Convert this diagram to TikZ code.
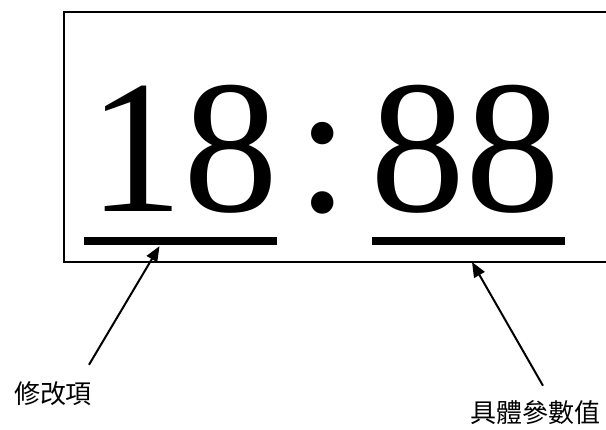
\documentclass[tikz,border=0pt]{standalone}
\usepackage{fontspec}
\setmainfont{Liberation Serif}
\newfontfamily\timesfont{Liberation Serif}
\newfontfamily\cjk{Noto Sans CJK TC}
\usepackage{tikz}
\usetikzlibrary{positioning,arrows.meta,calc}

\begin{document}
\begin{tikzpicture}[x=1pt,y=-1pt,
    digits/.style={inner sep=0pt,font=\timesfont\fontsize{190}{190}\selectfont},
    bar/.style={fill=black,inner sep=0pt,minimum width=193pt,minimum height=8pt},
    tag/.style={inner sep=0pt,font=\cjk\fontsize{26}{26}\selectfont},
    pointer/.style={line width=2pt,-{Triangle[length=15pt,width=12pt]}}]
  \useasboundingbox (0,0) rectangle (606,430);
  % open frame, right side runs off the page
  \coordinate (frameTL) at (64,12);
  \coordinate (frameBL) at (64,262);
  \draw[line width=1.4pt] (606,12) -- (frameTL) -- (frameBL) -- (606,262);
  \node[digits,anchor=base west] (hour) at (88,212) {18};
  \node[digits,anchor=base] (colon) at (323,212) {:};
  \node[digits,anchor=base west] (minute) at (370,212) {88};
  \node[bar] (hourbar) at (180.5,241) {};
  \node[bar] (minutebar) at (468.5,241) {};
  \node[tag] (item) at (53,394) {修改項};
  \node[tag] (value) at (535,413) {具體參數值};
  \draw[pointer] ($(item.north)+(36,-17)$) -- ($(hourbar.south)+(-21,1)$);
  \draw[pointer] ($(value.north)+(8,-15)$) -- (472,0 |- frameBL);
\end{tikzpicture}
\end{document}
